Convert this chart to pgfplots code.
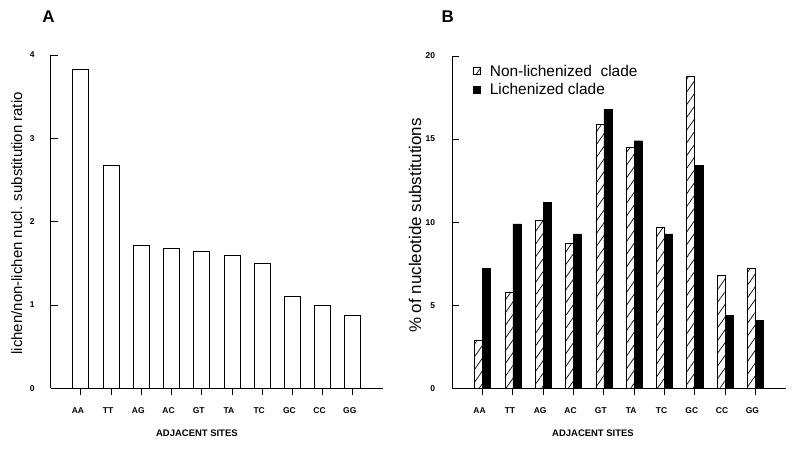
\documentclass[border=0pt]{standalone}
\usepackage{fontspec}
\setmainfont{Liberation Sans}
\usepackage{pgfplots}
\pgfplotsset{compat=1.18}
\usetikzlibrary{patterns.meta}
\begin{document}
\begin{tikzpicture}
\path (0bp,0bp) rectangle (798bp,449bp);
\pgfplotsset{
  common/.style={
    scale only axis,
    axis lines*=left,
    axis line style={line width=1.1bp},
    xmin=-1, xmax=10, ymin=0,
    xtick={0,...,9},
    xticklabels={AA,TT,AG,AC,GT,TA,TC,GC,CC,GG},
    tick align=inside,
    major tick length=7bp,
    tick style={line width=0.9bp, black},
    /pgf/number format/assume math mode=true,
    xticklabel style={font=\fontsize{8.5}{10}\selectfont\bfseries, anchor=north, inner sep=0pt, yshift=-12bp, xshift=-3bp},
    yticklabel style={font=\fontsize{8.5}{10}\selectfont\bfseries, anchor=east, inner sep=0pt},
    axis on top,
    clip=false,
  }
}
% Panel A
\begin{axis}[common,
  at={(50.7bp,60.7bp)}, anchor=south west,
  width=332.3bp, height=333.3bp,
  ymax=4, ytick={0,1,2,3,4},
  yticklabel style={xshift=-16bp},
  ybar, bar width=0.53,
  xlabel={ADJACENT SITES},
  every axis x label/.style={at={(axis description cs:0.44,-0.134)}, anchor=center, font=\fontsize{9.5}{11}\selectfont\bfseries},
  ylabel={lichen/non-lichen nucl. substitution ratio},
  every axis y label/.style={at={(axis description cs:-0.1023,0.495)}, anchor=center, rotate=90, font=\fontsize{15}{18}\selectfont},
]
\addplot[draw=black, line width=0.9bp, fill=white] coordinates {
 (0,3.83) (1,2.68) (2,1.72) (3,1.68) (4,1.64) (5,1.60) (6,1.50) (7,1.10) (8,1.00) (9,0.88)};
\end{axis}
% Panel B
\begin{axis}[common,
  at={(452.3bp,60.7bp)}, anchor=south west,
  width=333.4bp, height=332.3bp,
  ymax=20, ytick={0,5,10,15,20},
  yticklabel style={xshift=-17bp},
  ybar=0pt, bar width=0.264,
  xlabel={ADJACENT SITES},
  every axis x label/.style={at={(axis description cs:0.422,-0.1345)}, anchor=center, font=\fontsize{9.5}{11}\selectfont\bfseries},
  ylabel={\% of nucleotide substitutions},
  every axis y label/.style={at={(axis description cs:-0.112,0.49)}, anchor=center, rotate=90, font=\fontsize{17}{20}\selectfont},
  legend style={at={(axis description cs:0.062,0.98)}, anchor=north west, draw=none, fill=none,
    font=\fontsize{15.5}{18}\selectfont, row sep=2bp, inner sep=0pt, legend cell align=left,
    /tikz/every odd column/.append style={column sep=7bp}},
  legend image code/.code={\draw[#1, line width=0.7bp] (0bp,-3.5bp) rectangle (7bp,3.5bp);},
]
\addplot[draw=black, line width=0.7bp, fill=white, postaction={pattern={Lines[angle=55,distance=7.3bp,line width=0.7bp]}}] coordinates {
 (0,2.9) (1,5.8) (2,10.1) (3,8.7) (4,15.9) (5,14.5) (6,9.7) (7,18.8) (8,6.8) (9,7.2)};
\addlegendentry{Non-lichenized~~clade}
\addplot[draw=black, fill=black] coordinates {
 (0,7.2) (1,9.9) (2,11.2) (3,9.3) (4,16.8) (5,14.9) (6,9.3) (7,13.4) (8,4.4) (9,4.1)};
\addlegendentry{Lichenized clade}
\end{axis}
\node[font=\fontsize{17}{20}\selectfont\bfseries] at (48.5bp,432bp) {A};
\node[font=\fontsize{17}{20}\selectfont\bfseries] at (447.7bp,432bp) {B};
\end{tikzpicture}
\end{document}
